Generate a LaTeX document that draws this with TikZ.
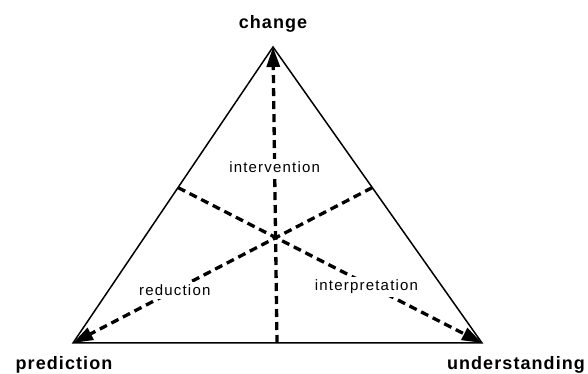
\documentclass[tikz,border=0pt]{standalone}
\usepackage{fontspec}
\setmainfont{Liberation Sans}
\newfontfamily\espacefont[LetterSpace=6]{Liberation Sans}
\newfontfamily\espacefin[LetterSpace=8]{Liberation Sans}
\usepackage{tikz}
\usetikzlibrary{arrows.meta,calc}
\tikzset{
  sommet/.style={font=\espacefont\bfseries\fontsize{18}{20}\selectfont, inner sep=1pt},
  etiquette/.style={font=\espacefin\fontsize{15}{17}\selectfont, fill=white, inner sep=3pt},
  bord/.style={line width=1.5pt},
  fleche/.style={line width=3.3pt, dash pattern=on 8pt off 5pt,
                 -{Triangle[length=20pt,width=13pt]}}
}
\begin{document}
\begin{tikzpicture}[x=1pt,y=1pt]
    \useasboundingbox (0,0) rectangle (588,374);
    % les trois sommets du triangle
    \coordinate (C) at (273,327);
    \coordinate (P) at (73,31);
    \coordinate (U) at (482,31);
    % points de depart des fleches sur les cotes
    \coordinate (B) at (277,31);
    \coordinate (L) at ($(P)!0.525!(C)$);
    \coordinate (R) at ($(U)!0.525!(C)$);
    % triangle
    \draw[bord] (P) -- (C) -- (U) -- cycle;
    % fleches en tirets
    \draw[fleche] (B) -- node[etiquette, pos=0.593] {intervention} (C);
    \draw[fleche] (L) -- node[etiquette, pos=0.62, yshift=-3pt] {interpretation} (U);
    \draw[fleche] (R) -- node[etiquette, pos=0.66] {reduction} (P);
    % noms des sommets
    \node[sommet] (change) at (273,350) {change};
    \node[sommet] (prediction) at (64,9) {prediction};
    \node[sommet] (understanding) at (516,9) {understanding};
\end{tikzpicture}
\end{document}
